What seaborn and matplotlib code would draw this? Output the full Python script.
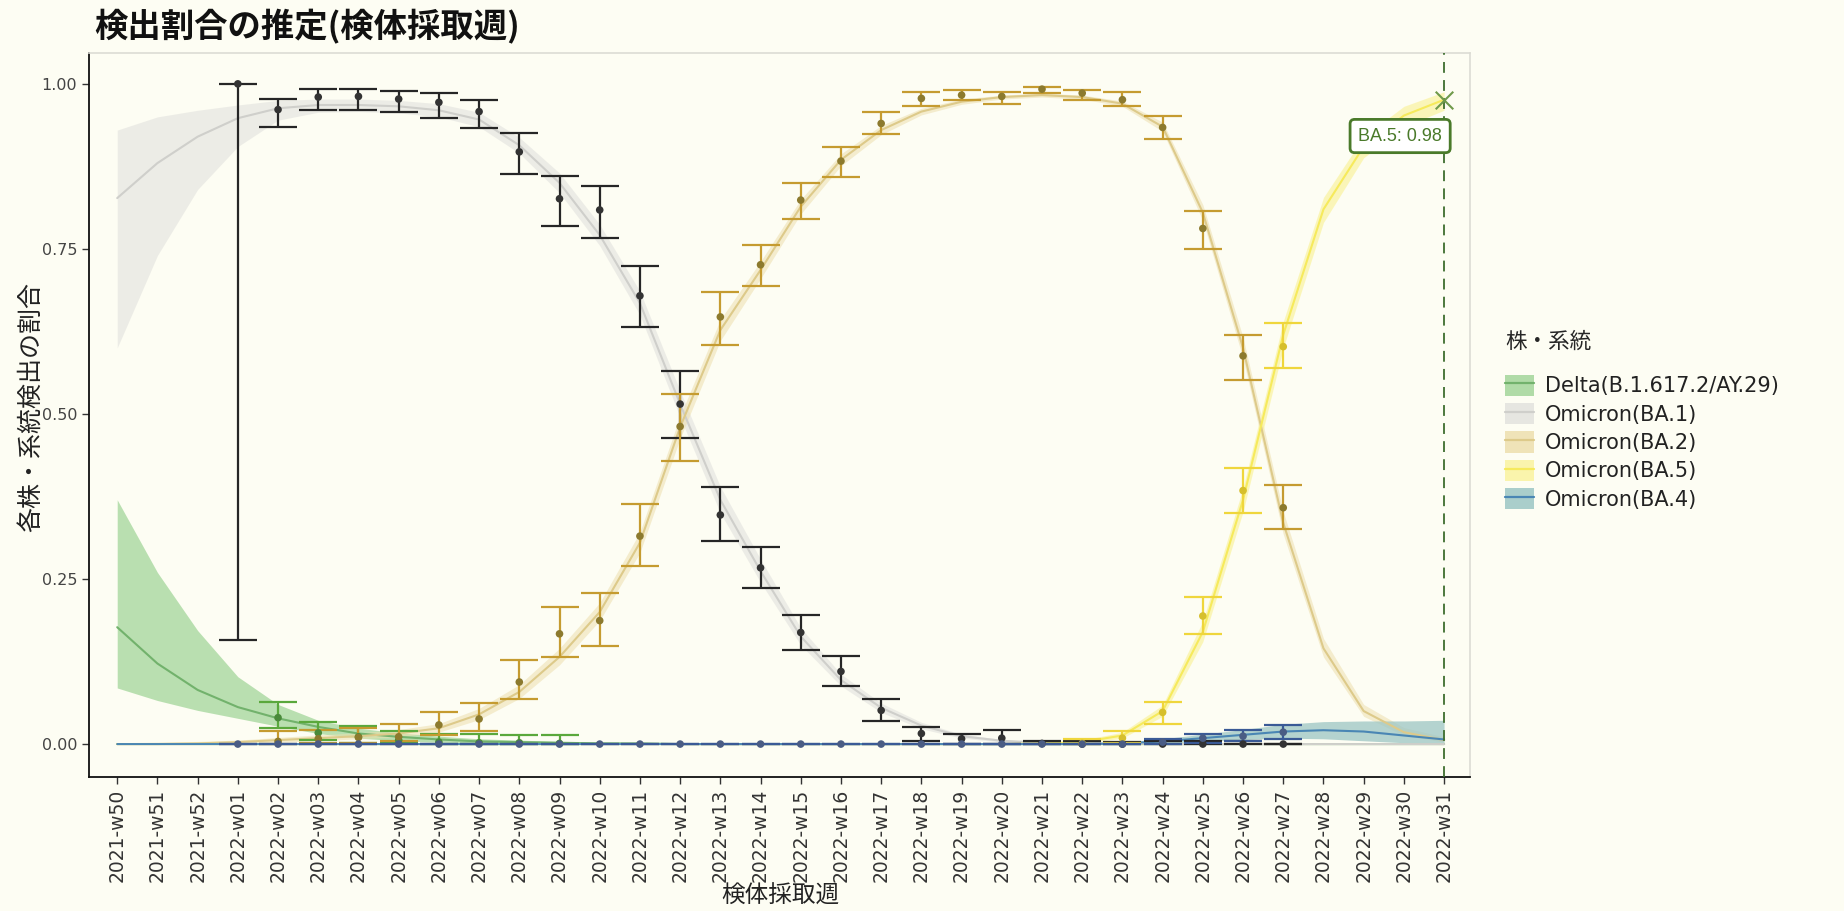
import numpy as np
import pandas as pd
import matplotlib
matplotlib.use("Agg")
import matplotlib.pyplot as plt
import seaborn as sns
from matplotlib.patches import Patch
from matplotlib.lines import Line2D

# week categories
weeks = ["2021-w50", "2021-w51", "2021-w52",
         "2022-w01", "2022-w02", "2022-w03", "2022-w04", "2022-w05", "2022-w06",
         "2022-w07", "2022-w08", "2022-w09", "2022-w10", "2022-w11", "2022-w12",
         "2022-w13", "2022-w14", "2022-w15", "2022-w16", "2022-w17", "2022-w18",
         "2022-w19", "2022-w20", "2022-w21", "2022-w22", "2022-w23", "2022-w24",
         "2022-w25", "2022-w26", "2022-w27", "2022-w28", "2022-w29", "2022-w30",
         "2022-w31"]

variants = ["Delta(B.1.617.2/AY.29)", "Omicron(BA.1)", "Omicron(BA.2)",
            "Omicron(BA.5)", "Omicron(BA.4)"]

# fitted proportions (w50 .. w31)
delta_fit = [0.177, 0.122, 0.082, 0.056, 0.039, 0.026, 0.016, 0.011, 0.007, 0.004, 0.003, 0.002,
             0.001, 0.001, 0.0, 0.0, 0.0, 0.0, 0.0, 0.0, 0.0, 0.0, 0.0, 0.0, 0.0, 0.0, 0.0,
             0.0, 0.0, 0.0, 0.0, 0.0, 0.0, 0.0]
delta_lo = [0.085, 0.066, 0.051, 0.039, 0.027, 0.016, 0.009, 0.005, 0.003, 0.002, 0.001, 0.001,
            0.0, 0.0, 0.0, 0.0, 0.0, 0.0, 0.0, 0.0, 0.0, 0.0, 0.0, 0.0, 0.0, 0.0, 0.0,
            0.0, 0.0, 0.0, 0.0, 0.0, 0.0, 0.0]
delta_hi = [0.370, 0.260, 0.172, 0.102, 0.060, 0.036, 0.024, 0.017, 0.012, 0.008, 0.006, 0.004,
            0.003, 0.002, 0.001, 0.001, 0.0, 0.0, 0.0, 0.0, 0.0, 0.0, 0.0, 0.0, 0.0, 0.0, 0.0,
            0.0, 0.0, 0.0, 0.0, 0.0, 0.0, 0.0]

ba1_fit = [0.827, 0.880, 0.920, 0.948, 0.963, 0.968, 0.968, 0.966, 0.960, 0.946, 0.907, 0.850,
           0.771, 0.668, 0.515, 0.370, 0.262, 0.163, 0.097, 0.055, 0.028, 0.012, 0.005, 0.002,
           0.001, 0.001, 0.0, 0.0, 0.0, 0.0, 0.0, 0.0, 0.0, 0.0]
ba1_lo = [0.600, 0.740, 0.840, 0.905, 0.945, 0.957, 0.958, 0.956, 0.950, 0.935, 0.895, 0.835,
          0.755, 0.650, 0.495, 0.350, 0.245, 0.150, 0.088, 0.048, 0.023, 0.009, 0.003, 0.001,
          0.0, 0.0, 0.0, 0.0, 0.0, 0.0, 0.0, 0.0, 0.0, 0.0]
ba1_hi = [0.930, 0.950, 0.960, 0.968, 0.975, 0.977, 0.977, 0.975, 0.970, 0.957, 0.919, 0.865,
          0.787, 0.686, 0.535, 0.390, 0.280, 0.176, 0.106, 0.062, 0.033, 0.015, 0.007, 0.003,
          0.002, 0.001, 0.0, 0.0, 0.0, 0.0, 0.0, 0.0, 0.0, 0.0]

ba2_fit = [0.0, 0.0, 0.001, 0.003, 0.006, 0.009, 0.012, 0.016, 0.024, 0.045, 0.079, 0.132,
           0.200, 0.305, 0.480, 0.627, 0.718, 0.814, 0.885, 0.930, 0.958, 0.973, 0.980, 0.983,
           0.980, 0.970, 0.935, 0.805, 0.600, 0.335, 0.145, 0.050, 0.018, 0.006]
ba2_lo = [0.0, 0.0, 0.0, 0.001, 0.003, 0.005, 0.008, 0.011, 0.018, 0.037, 0.069, 0.120,
          0.187, 0.290, 0.463, 0.611, 0.705, 0.803, 0.876, 0.923, 0.953, 0.969, 0.977, 0.980,
          0.977, 0.966, 0.928, 0.793, 0.584, 0.318, 0.132, 0.042, 0.013, 0.003]
ba2_hi = [0.002, 0.003, 0.004, 0.006, 0.010, 0.014, 0.017, 0.022, 0.031, 0.054, 0.090, 0.145,
          0.214, 0.321, 0.497, 0.643, 0.731, 0.825, 0.894, 0.937, 0.963, 0.977, 0.983, 0.986,
          0.983, 0.974, 0.942, 0.817, 0.616, 0.352, 0.160, 0.060, 0.025, 0.011]

ba5_fit = [0.0, 0.0, 0.0, 0.0, 0.0, 0.0, 0.0, 0.0, 0.0, 0.0, 0.0, 0.0, 0.0, 0.0, 0.0, 0.0, 0.0,
           0.0, 0.0, 0.0, 0.0, 0.0, 0.0, 0.001, 0.003, 0.013, 0.050, 0.170, 0.370, 0.620,
           0.810, 0.905, 0.952, 0.976]
ba5_lo = [0.0, 0.0, 0.0, 0.0, 0.0, 0.0, 0.0, 0.0, 0.0, 0.0, 0.0, 0.0, 0.0, 0.0, 0.0, 0.0, 0.0,
          0.0, 0.0, 0.0, 0.0, 0.0, 0.0, 0.0, 0.001, 0.009, 0.042, 0.155, 0.352, 0.600,
          0.790, 0.888, 0.935, 0.960]
ba5_hi = [0.0, 0.0, 0.0, 0.0, 0.0, 0.0, 0.0, 0.0, 0.0, 0.0, 0.0, 0.0, 0.0, 0.0, 0.0, 0.0, 0.0,
          0.0, 0.0, 0.0, 0.0, 0.0, 0.001, 0.002, 0.006, 0.018, 0.059, 0.186, 0.388, 0.640,
          0.828, 0.920, 0.966, 0.988]

ba4_fit = [0.0, 0.0, 0.0, 0.0, 0.0, 0.0, 0.0, 0.0, 0.0, 0.0, 0.0, 0.0, 0.0, 0.0, 0.0, 0.0, 0.0,
           0.0, 0.0, 0.0, 0.0, 0.0, 0.0, 0.0, 0.0, 0.001, 0.004, 0.009, 0.014, 0.019,
           0.021, 0.019, 0.013, 0.007]
ba4_lo = [0.0, 0.0, 0.0, 0.0, 0.0, 0.0, 0.0, 0.0, 0.0, 0.0, 0.0, 0.0, 0.0, 0.0, 0.0, 0.0, 0.0,
          0.0, 0.0, 0.0, 0.0, 0.0, 0.0, 0.0, 0.0, 0.0, 0.001, 0.004, 0.007, 0.009,
          0.008, 0.005, 0.002, 0.0]
ba4_hi = [0.0, 0.0, 0.0, 0.0, 0.0, 0.0, 0.0, 0.0, 0.0, 0.0, 0.0, 0.0, 0.0, 0.0, 0.0, 0.0, 0.0,
          0.0, 0.0, 0.0, 0.0, 0.0, 0.0, 0.0, 0.001, 0.003, 0.008, 0.015, 0.022, 0.030,
          0.034, 0.035, 0.035, 0.036]

# observed weekly proportions with confidence intervals
delta_weeks = weeks[4:12]
delta_obs = [0.040, 0.017, 0.011, 0.006, 0.003, 0.002, 0.002, 0.001]
delta_obs_lo = [0.024, 0.006, 0.002, 0.001, 0.0, 0.0, 0.0, 0.0]
delta_obs_hi = [0.064, 0.034, 0.027, 0.020, 0.015, 0.015, 0.014, 0.013]

ba1_weeks = weeks[3:30]
ba1_obs = [1.000, 0.961, 0.980, 0.981, 0.977, 0.972, 0.958, 0.897, 0.826, 0.809, 0.679, 0.515,
           0.347, 0.267, 0.169, 0.110, 0.051, 0.016, 0.008, 0.009, 0.001, 0.0, 0.0, 0.0, 0.0,
           0.0, 0.0]
ba1_obs_lo = [0.158, 0.935, 0.960, 0.961, 0.957, 0.949, 0.933, 0.864, 0.784, 0.767, 0.632,
              0.463, 0.308, 0.237, 0.142, 0.088, 0.035, 0.005, 0.0, 0.0, 0.0, 0.0, 0.0, 0.0,
              0.0, 0.0, 0.0]
ba1_obs_hi = [1.000, 0.977, 0.992, 0.992, 0.989, 0.986, 0.976, 0.926, 0.861, 0.846, 0.724,
              0.565, 0.389, 0.299, 0.195, 0.133, 0.068, 0.026, 0.016, 0.021, 0.005, 0.004,
              0.003, 0.004, 0.005, 0.005, 0.0]

ba2_weeks = weeks[4:30]
ba2_obs = [0.004, 0.008, 0.010, 0.011, 0.029, 0.038, 0.094, 0.167, 0.187, 0.315, 0.481, 0.647,
           0.726, 0.824, 0.883, 0.940, 0.978, 0.983, 0.981, 0.992, 0.986, 0.976, 0.934, 0.781,
           0.588, 0.358]
ba2_obs_lo = [0.0, 0.001, 0.002, 0.004, 0.014, 0.020, 0.068, 0.132, 0.148, 0.270, 0.429, 0.605,
              0.694, 0.795, 0.859, 0.924, 0.966, 0.975, 0.970, 0.986, 0.975, 0.967, 0.916,
              0.750, 0.552, 0.326]
ba2_obs_hi = [0.020, 0.022, 0.025, 0.030, 0.049, 0.062, 0.128, 0.208, 0.229, 0.364, 0.530,
              0.685, 0.756, 0.850, 0.905, 0.957, 0.987, 0.990, 0.987, 0.996, 0.991, 0.987,
              0.951, 0.808, 0.620, 0.392]

ba5_weeks = weeks[24:30]
ba5_obs = [0.001, 0.009, 0.048, 0.194, 0.384, 0.602]
ba5_obs_lo = [0.0, 0.002, 0.031, 0.167, 0.350, 0.569]
ba5_obs_hi = [0.007, 0.020, 0.063, 0.223, 0.418, 0.638]

ba4_weeks = weeks[3:30]
ba4_obs = [0.0, 0.0, 0.0, 0.0, 0.0, 0.0, 0.0, 0.0, 0.0, 0.0, 0.0, 0.0, 0.0, 0.0, 0.0, 0.0, 0.0,
           0.0, 0.0, 0.0, 0.0, 0.0, 0.0, 0.003, 0.009, 0.012, 0.018]
ba4_obs_lo = [0.0, 0.0, 0.0, 0.0, 0.0, 0.0, 0.0, 0.0, 0.0, 0.0, 0.0, 0.0, 0.0, 0.0, 0.0, 0.0,
              0.0, 0.0, 0.0, 0.0, 0.0, 0.0, 0.0, 0.0, 0.002, 0.004, 0.007]
ba4_obs_hi = [0.0, 0.0, 0.0, 0.0, 0.0, 0.0, 0.0, 0.0, 0.0, 0.0, 0.0, 0.0, 0.0, 0.0, 0.0, 0.0,
              0.0, 0.0, 0.0, 0.0, 0.0, 0.0, 0.0, 0.008, 0.016, 0.021, 0.029]

fill_colors = ["#a3d69a", "#e2e2de", "#eddfae", "#faf3a0", "#9cc6c4"]
fill_alpha = [0.75, 0.6, 0.55, 0.7, 0.75]
line_colors = ["#72b26c", "#cfcfcb", "#ddca8a", "#f6ea5c", "#4a86b4"]
bar_colors = ["#5aa83c", "#262626", "#c59b30", "#efd63c", "#3a5a96"]
point_colors = ["#4a8a3a", "#333333", "#8c7a2e", "#d6bf2c", "#4a5c84"]

fits = {variants[0]: (delta_fit, delta_lo, delta_hi),
        variants[1]: (ba1_fit, ba1_lo, ba1_hi),
        variants[2]: (ba2_fit, ba2_lo, ba2_hi),
        variants[3]: (ba5_fit, ba5_lo, ba5_hi),
        variants[4]: (ba4_fit, ba4_lo, ba4_hi)}
obs = {variants[0]: (delta_weeks, delta_obs, delta_obs_lo, delta_obs_hi),
       variants[1]: (ba1_weeks, ba1_obs, ba1_obs_lo, ba1_obs_hi),
       variants[2]: (ba2_weeks, ba2_obs, ba2_obs_lo, ba2_obs_hi),
       variants[3]: (ba5_weeks, ba5_obs, ba5_obs_lo, ba5_obs_hi),
       variants[4]: (ba4_weeks, ba4_obs, ba4_obs_lo, ba4_obs_hi)}

week_pos = {w: i for i, w in enumerate(weeks)}

fit_rows = []
for v, (f, lo, hi) in fits.items():
    for i, w in enumerate(weeks):
        fit_rows.append({"variant": v, "x": i, "fit": f[i], "lo": lo[i], "hi": hi[i]})
fit_df = pd.DataFrame(fit_rows)

obs_rows = []
for v, (wk, val, lo, hi) in obs.items():
    for w, a, b, c in zip(wk, val, lo, hi):
        obs_rows.append({"variant": v, "x": week_pos[w], "p": a, "lo": b, "hi": c})
obs_df = pd.DataFrame(obs_rows)

sns.set_theme(style="white")
plt.rcParams["font.family"] = ["DejaVu Sans", "Noto Sans CJK JP"]
bg = "#fdfdf3"

fig = plt.figure(figsize=(18.44, 9.11), dpi=100, facecolor=bg)
ax = fig.add_axes([0.0483, 0.147, 0.749, 0.795], facecolor=bg)

# ribbons
for v, fc, a in zip(variants, fill_colors, fill_alpha):
    d = fit_df[fit_df.variant == v]
    ax.fill_between(d.x, d.lo, d.hi, color=fc, alpha=a, lw=0, zorder=1)

# fitted lines
sns.lineplot(data=fit_df, x="x", y="fit", hue="variant", hue_order=variants,
             palette=dict(zip(variants, line_colors)), lw=1.5, legend=False,
             ax=ax, zorder=2)

# observed error bars
for v, bc in zip(variants, bar_colors):
    d = obs_df[obs_df.variant == v]
    ax.errorbar(d.x, d.p, yerr=[d.p - d.lo, d.hi - d.p], fmt="none", ecolor=bc,
                elinewidth=1.6, capsize=14, capthick=1.6, zorder=3)

sns.scatterplot(data=obs_df, x="x", y="p", hue="variant", hue_order=variants,
                palette=dict(zip(variants, point_colors)), s=30, linewidth=0,
                legend=False, ax=ax, zorder=4)

# latest week marker and label
last = len(weeks) - 1
ax.axvline(last, color="#3e6e2e", lw=1.3, ls=(0, (6, 4)), zorder=5)
ax.scatter([last], [ba5_fit[-1]], marker="x", s=160, color="#6f9a4a", lw=1.5, zorder=6)
ax.text(last - 0.05, 0.921, f"BA.5: {ba5_fit[-1]:.2f}", ha="right", va="center",
        fontsize=13, color="#4a7a2a", family=["Liberation Sans", "DejaVu Sans"],
        bbox=dict(boxstyle="round,pad=0.45,rounding_size=0.25", fc="white",
                  ec="#4a7a2a", lw=2), zorder=7)

ax.set_xlim(-0.7, 33.65)
ax.set_ylim(-0.05, 1.047)
ax.set_xticks(range(len(weeks)))
ax.set_xticklabels(weeks, rotation=90, fontsize=13.5, color="#333333")
ax.set_yticks([0, 0.25, 0.5, 0.75, 1.0])
ax.set_yticklabels(["0.00", "0.25", "0.50", "0.75", "1.00"], fontsize=11.5, color="#444444")
ax.tick_params(axis="both", length=5, width=1, color="#333333", bottom=True, left=True)
ax.set_xlabel("")
ax.set_ylabel("")
for s in ["left", "bottom"]:
    ax.spines[s].set_color("#111111")
    ax.spines[s].set_linewidth(1.3)
for s in ["top", "right"]:
    ax.spines[s].set_color("#dcdcd4")
    ax.spines[s].set_linewidth(1.2)

fig.text(0.051, 0.971, "検出割合の推定(検体採取週)", fontsize=24, fontweight="bold",
         family=["Noto Sans CJK JP", "DejaVu Sans"], ha="left", va="center", color="#111111")
fig.text(0.017, 0.553, "各株・系統検出の割合", rotation=90, fontsize=18,
         family=["Noto Sans CJK JP", "DejaVu Sans"], ha="center", va="center", color="#222222")
fig.text(0.423, 0.016, "検体採取週", fontsize=17,
         family=["Noto Sans CJK JP", "DejaVu Sans"], ha="center", va="center", color="#222222")

handles = [(Patch(fc=fc, ec="none", alpha=0.85), Line2D([], [], color=lc, lw=1.6))
           for fc, lc in zip(fill_colors, line_colors)]
leg = fig.legend(handles, variants, loc="upper left", bbox_to_anchor=(0.806, 0.658),
                 frameon=False, fontsize=15, title="株・系統", handlelength=1.4,
                 handleheight=1.2, labelspacing=0.32, handletextpad=0.5,
                 alignment="left")
leg.get_title().set_fontsize(15.5)
leg.get_title().set_family(["Noto Sans CJK JP", "DejaVu Sans"])
leg._legend_box.sep = 16
for t in leg.get_texts():
    t.set_color("#222222")

fig.savefig("out.png", dpi=100, facecolor=bg)
